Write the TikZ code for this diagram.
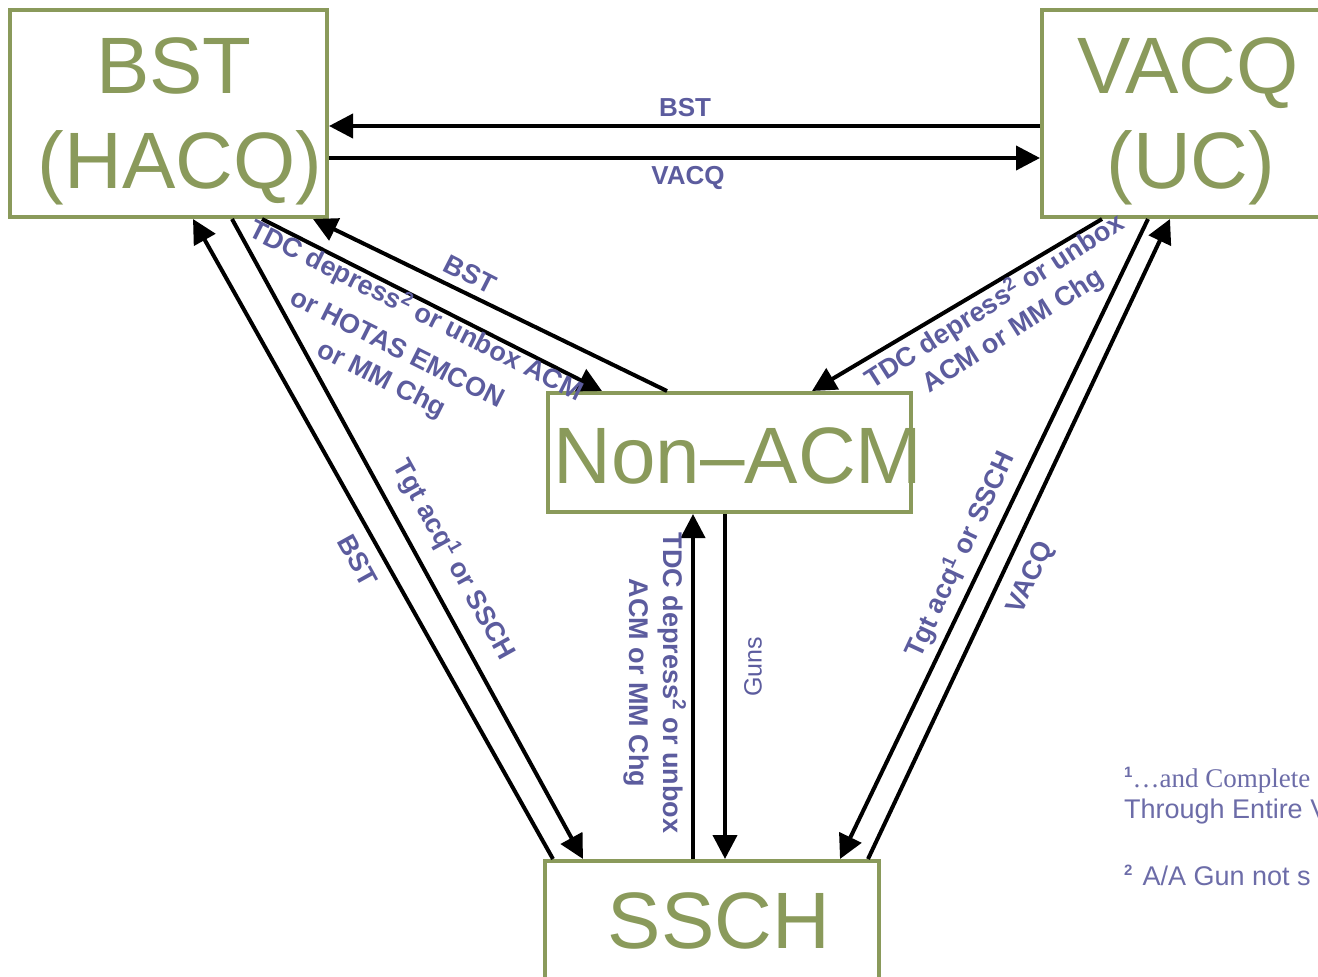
\documentclass[tikz,border=0pt]{standalone}
\usepackage{fontspec}
\setmainfont{Liberation Sans}
\newfontfamily\notefont{Liberation Serif}
\usetikzlibrary{arrows.meta,calc}
\definecolor{statecol}{RGB}{138,154,91}
\definecolor{lblcol}{RGB}{92,92,158}
\definecolor{notecol}{RGB}{108,108,168}
% raised footnote marker
\newcommand\notemark[1]{\raisebox{10pt}{\fontsize{15}{15}\selectfont\bfseries #1}}

\begin{document}
\begin{tikzpicture}[x=1pt,y=-1pt,
  state/.style={draw=statecol, line width=4pt, inner sep=0pt, outer sep=2pt},
  statetext/.style={text=statecol, font=\fontsize{80}{95}\selectfont, inner sep=0pt, anchor=base},
  flow/.style={line width=4pt, -{Triangle[length=24pt,width=24pt]}},
  lbl/.style={text=lblcol, font=\bfseries\fontsize{27}{34}\selectfont, align=center, inner sep=0pt},
  toplbl/.style={text=lblcol, font=\bfseries\fontsize{26}{30}\selectfont, inner sep=0pt},
  note/.style={text=notecol, font=\fontsize{27}{30}\selectfont, inner sep=0pt, anchor=base west},
]
\useasboundingbox (0,0) rectangle (1318,977);
\clip (0,0) rectangle (1318,977);

% ---- states ----
\node[state, minimum width=317, minimum height=207] (bst)    at (168.5,113.5) {};
\node[state, minimum width=292, minimum height=207] (vacq)   at (1188,113.5) {};
\node[state, minimum width=363, minimum height=119] (nonacm) at (729.5,452.5) {};
\node[state, minimum width=334, minimum height=119] (ssch)   at (712,920.5) {};

\node[statetext] (bstA)  at (174,93)   {BST};
\node[statetext] (bstB)  at (180,188)  {(HACQ)};
\node[statetext] (vacqA) at (1188,93)  {VACQ};
\node[statetext] (vacqB) at (1191,188) {(UC)};
\node[statetext] (nonacmT) at (738,483) {Non–ACM};
\node[statetext] (sschT) at (719,948)  {SSCH};

% ---- transitions between BST and VACQ ----
\draw[flow] ($(vacq.west)+(0,12.5)$) -- ($(bst.east)+(0,12.5)$);
\draw[flow] ($(bst.east)+(0,44.5)$) -- ($(vacq.west)+(0,44.5)$);
\node[toplbl] (lbst) at (685,108) {BST};
\node[toplbl] (lvacq) at (688,178) {VACQ};

% ---- transitions with Non-ACM ----
\draw[flow] ($(nonacm.north west)+(121,0)$) -- ($(bst.south west)+(305,0)$);
\draw[flow] ($(bst.south west)+(254,0)$) -- ($(nonacm.north west)+(56,0)$);
\draw[flow] ($(vacq.south west)+(62,0)$) -- ($(nonacm.north west)+(266,0)$);
\draw[flow] ($(ssch.north west)+(150,0)$) -- ($(nonacm.south west)+(147,0)$);
\draw[flow] ($(nonacm.south west)+(179,0)$) -- ($(ssch.north west)+(182,0)$);

% ---- transitions with SSCH ----
\draw[flow] ($(ssch.north west)+(10,0)$) -- ($(bst.south west)+(185,0)$);
\draw[flow] ($(bst.south west)+(224,0)$) -- ($(ssch.north west)+(40,0)$);
\draw[flow] ($(vacq.south west)+(108,0)$) -- ($(ssch.north west)+(297,0)$);
\draw[flow] ($(ssch.north west)+(325,0)$) -- ($(vacq.south west)+(130,0)$);

% ---- transition labels ----
\node[lbl, rotate=-27] (l1) at (470,274) {BST};
\node[lbl, rotate=-26.6] (l2) at (399,345) {TDC depress\textsuperscript{2} or unbox ACM\\[8pt] or HOTAS EMCON\\ or MM Chg};
\node[lbl, rotate=32.5] (l3) at (1004,316) {TDC depress\textsuperscript{2} or unbox\\ ACM or MM Chg};
\node[lbl, rotate=-90] (l4) at (655,683) {TDC depress\textsuperscript{2} or unbox\\ ACM or MM Chg};
\node[text=lblcol, font=\fontsize{25}{30}\selectfont, inner sep=0pt, rotate=90] (l5) at (753,667) {Guns};
\node[lbl, rotate=-61] (l6) at (358,561) {BST};
\node[lbl, rotate=-61] (l7) at (454,560) {Tgt acq\textsuperscript{1} or SSCH};
\node[lbl, rotate=65] (l8) at (960,555) {Tgt acq\textsuperscript{1} or SSCH};
\node[lbl, rotate=65] (l9) at (1031,578) {VACQ};

% ---- footnotes ----
\node[note] (fn1) at (1124,787) {\notemark{1}\notefont …and Complete};
\node[note] (fn2) at (1124,818) {Through Entire V};
\node[note] (fn3) at (1124,885) {\notemark{2}\hspace{10pt}A/A Gun not s};
\end{tikzpicture}
\end{document}
